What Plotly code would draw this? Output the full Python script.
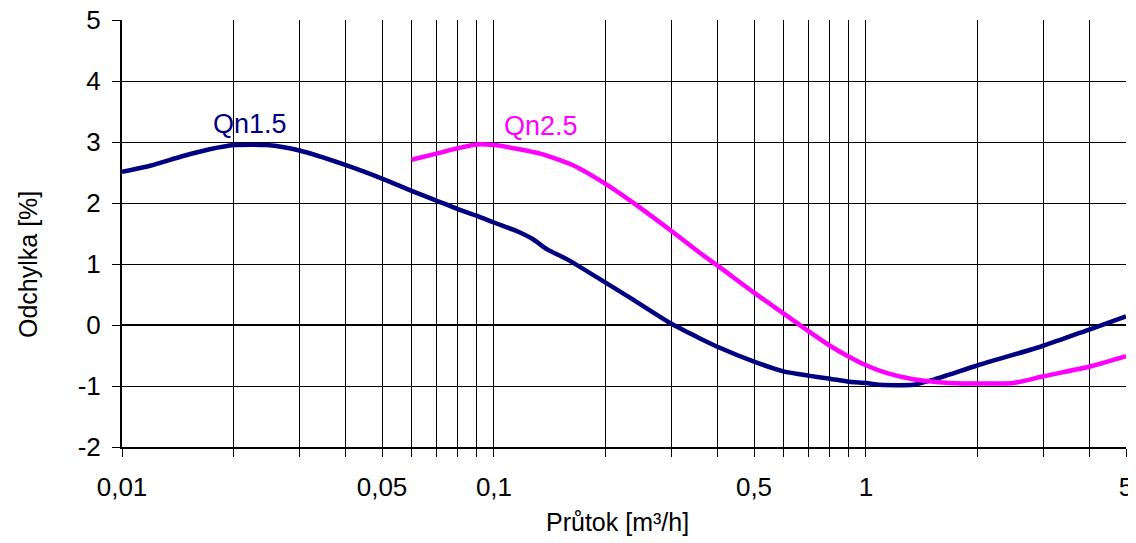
import math
import plotly.graph_objects as go

# Qn1.5 series
qn15_x = [0.01, 0.0119, 0.0146, 0.0172, 0.02, 0.0245, 0.03, 0.04, 0.05, 0.06, 0.07, 0.08, 0.09, 0.1,
          0.115, 0.127, 0.139, 0.157, 0.2, 0.236, 0.3, 0.358, 0.4, 0.5, 0.6, 0.7, 0.8, 0.9, 1.0,
          1.09, 1.34, 1.51, 2, 3, 4, 5]
qn15_y = [2.51, 2.61, 2.77, 2.88, 2.95, 2.95, 2.86, 2.62, 2.40, 2.20, 2.04, 1.90, 1.79, 1.68,
          1.54, 1.41, 1.24, 1.08, 0.69, 0.42, 0.02, -0.22, -0.36, -0.60, -0.76, -0.83, -0.88, -0.93, -0.95,
          -0.98, -0.98, -0.90, -0.66, -0.34, -0.07, 0.14]

# Qn2.5 series
qn25_x = [0.06, 0.07, 0.08, 0.09, 0.1, 0.115, 0.133, 0.163, 0.2, 0.236, 0.3, 0.358, 0.4, 0.5, 0.6,
          0.7, 0.8, 0.9, 1.0, 1.14, 1.34, 1.68, 2, 2.49, 3, 4, 5]
qn25_y = [2.71, 2.81, 2.90, 2.96, 2.95, 2.89, 2.81, 2.62, 2.31, 2.01, 1.54, 1.18, 0.97, 0.53, 0.19,
          -0.10, -0.34, -0.52, -0.66, -0.79, -0.89, -0.95, -0.96, -0.95, -0.84, -0.68, -0.51]

grid_x = [0.01, 0.02, 0.03, 0.04, 0.05, 0.06, 0.07, 0.08, 0.09,
          0.1, 0.2, 0.3, 0.4, 0.5, 0.6, 0.7, 0.8, 0.9,
          1, 2, 3, 4, 5]
label_x = {0.01: "0,01", 0.05: "0,05", 0.1: "0,1", 0.5: "0,5", 1: "1", 5: "5"}
y_ticks = [-2, -1, 0, 1, 2, 3, 4, 5]

FONT = "Liberation Sans, Arial, sans-serif"

fig = go.Figure()
fig.add_trace(go.Scatter(x=qn15_x, y=qn15_y, mode="lines", name="Qn1.5",
                         line=dict(color="#000080", width=4.5, shape="spline", smoothing=0.6)))
fig.add_trace(go.Scatter(x=qn25_x, y=qn25_y, mode="lines", name="Qn2.5",
                         line=dict(color="#FF00FF", width=4.5, shape="spline", smoothing=0.6)))

fig.add_annotation(x=math.log10(0.0221), y=3.30, xref="x", yref="y", text="Qn1.5", showarrow=False,
                   font=dict(family=FONT, size=27, color="#000080"))
fig.add_annotation(x=math.log10(0.134), y=3.26, xref="x", yref="y", text="Qn2.5", showarrow=False,
                   font=dict(family=FONT, size=27, color="#FF00FF"))

# axis titles
fig.add_annotation(x=(28 - 122) / 1004, y=(447 - 265) / 427, xref="paper", yref="paper",
                   xanchor="center", yanchor="middle",
                   text="Odchylka [%]", textangle=-90, showarrow=False,
                   font=dict(family=FONT, size=25, color="black"))
fig.add_annotation(x=(617 - 122) / 1004, y=(447 - 522) / 427, xref="paper", yref="paper",
                   xanchor="center", yanchor="middle",
                   text="Průtok [m³/h]", showarrow=False,
                   font=dict(family=FONT, size=25, color="black"))

# page body adds an 8px offset, margins compensate for it
fig.update_layout(
    width=1136, height=543,
    margin=dict(l=114, r=18, t=12, b=104),
    paper_bgcolor="white", plot_bgcolor="white",
    showlegend=False,
    font=dict(family=FONT, color="black"),
)
fig.update_xaxes(
    type="log", range=[-2, 0.69897], automargin=False,
    tickvals=grid_x, ticktext=[label_x.get(v, "") for v in grid_x],
    tickfont=dict(size=26), ticks="outside", ticklen=8, tickcolor="black",
    ticklabeloverflow="allow", ticklabelstandoff=8,
    showgrid=True, gridcolor="black", gridwidth=1,
    showline=True, linecolor="black", linewidth=2,
)
fig.update_yaxes(
    range=[-2, 5], automargin=False, tickvals=y_ticks, ticktext=[str(v) for v in y_ticks],
    tickfont=dict(size=26), ticks="outside", ticklen=8, tickcolor="black",
    ticklabeloverflow="allow", ticklabelstandoff=6,
    showgrid=True, gridcolor="black", gridwidth=1,
    zeroline=True, zerolinecolor="black", zerolinewidth=2,
    showline=True, linecolor="black", linewidth=2,
)

fig.write_html("out.html")
